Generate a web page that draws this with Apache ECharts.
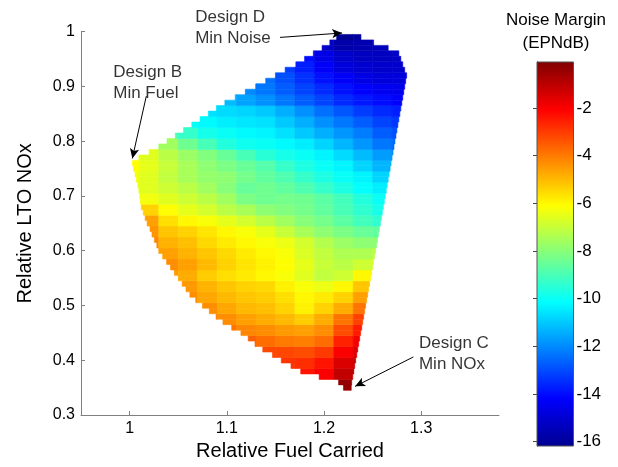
<!DOCTYPE html>
<html>
<head>
<meta charset="utf-8">
<script src="https://cdn.jsdelivr.net/npm/echarts@6/dist/echarts.min.js"></script>
<style>
html,body{margin:0;padding:0;background:#fff;}
#chart{width:618px;height:467px;}
</style>
</head>
<body>
<div id="chart"></div>
<script>
// ---------- DATA ----------
const xTicks = [1, 1.1, 1.2, 1.3];
const yTicks = [0.3, 0.4, 0.5, 0.6, 0.7, 0.8, 0.9, 1];
const cbTicks = [-16, -14, -12, -10, -8, -6, -4, -2];
const cbMin = -16.18, cbMax = -0.07;

// Region outline per 0.01 row of Relative LTO NOx
const rowY = [0.35,0.36,0.37,0.38,0.39,0.40,0.41,0.42,0.43,0.44,0.45,0.46,0.47,0.48,0.49,0.50,
  0.51,0.52,0.53,0.54,0.55,0.56,0.57,0.58,0.59,0.60,0.61,0.62,0.63,0.64,0.65,0.66,0.67,0.68,0.69,0.70,
  0.71,0.72,0.73,0.74,0.75,0.76,0.77,0.78,0.79,0.80,0.81,0.82,0.83,0.84,0.85,0.86,0.87,0.88,0.89,0.90,
  0.91,0.92,0.93,0.94,0.95,0.96,0.97,0.98,0.99];
const rowLeft = [1.220,1.215,1.195,1.176,1.166,1.156,1.147,1.137,1.129,1.122,1.1145,1.105,1.096,1.089,1.082,1.075,
  1.068,1.062,1.058,1.054,1.050,1.046,1.042,1.038,1.034,1.030,1.028,1.0255,1.023,1.021,1.018,1.016,1.014,1.012,1.011,1.0105,
  1.0096,1.0085,1.007,1.0056,1.004,1.003,1.0096,1.020,1.030,1.0385,1.047,1.0555,1.064,1.0725,1.081,1.0895,1.098,1.1086,1.119,1.130,
  1.140,1.150,1.160,1.171,1.180,1.189,1.198,1.206,1.213];
const rowRight = [1.228,1.2285,1.2296,1.2306,1.2316,1.2326,1.2337,1.2347,1.2357,1.2367,1.2377,1.2388,1.2398,1.2408,1.2418,1.2428,
  1.2439,1.2449,1.2459,1.2469,1.2479,1.249,1.250,1.251,1.252,1.253,1.254,1.255,1.256,1.257,1.258,1.259,1.260,1.261,1.262,1.263,
  1.264,1.265,1.266,1.267,1.268,1.269,1.270,1.271,1.272,1.273,1.274,1.275,1.276,1.277,1.278,1.279,1.280,1.281,1.282,1.283,
  1.284,1.285,1.283,1.281,1.279,1.277,1.266,1.251,1.238];

// Noise margin (EPNdB) sampled on columns of Relative Fuel Carried, bands of 0.02 LTO NOx
const colX = [1.00,1.02,1.04,1.06,1.08,1.10,1.12,1.14,1.16,1.18,1.20,1.22,1.24,1.26,1.28];
const bandY = [0.355,0.375,0.395,0.415,0.435,0.455,0.475,0.495,0.515,0.535,0.555,0.575,0.595,0.615,0.635,0.655,
  0.675,0.695,0.715,0.735,0.755,0.775,0.795,0.815,0.835,0.855,0.875,0.895,0.915,0.935,0.955,0.975,0.995];
const n = null;
const noiseMargin = [
  [n,n,n,n,n,n,n,n,n,n,n,-0.4,n,n,n],
  [n,n,n,n,n,n,n,n,n,-2.4,-2.0,-1.1,-0.8,n,n],
  [n,n,n,n,n,n,n,n,-2.9,-2.8,-2.4,-1.5,-1.1,n,n],
  [n,n,n,n,n,n,n,-3.2,-3.2,-3.3,-3.0,-2.0,-1.5,n,n],
  [n,n,n,n,n,n,-3.6,-3.8,-4.0,-4.1,-3.8,-2.6,-1.9,n,n],
  [n,n,n,n,n,-3.9,-4.2,-4.3,-4.5,-4.6,-4.3,-3.3,-2.5,n,n],
  [n,n,n,n,-4.0,-4.3,-4.6,-4.8,-5.0,-5.3,-4.8,-3.9,-3.1,n,n],
  [n,n,n,n,-4.3,-4.7,-5.0,-5.1,-5.4,-5.9,-5.4,-4.8,-3.9,n,n],
  [n,n,n,-4.3,-4.7,-5.0,-5.2,-5.3,-5.6,-6.0,-5.8,-5.4,-4.6,n,n],
  [n,n,n,-4.5,-4.9,-5.2,-5.4,-5.5,-5.9,-6.2,-6.4,-6.0,-5.2,n,n],
  [n,n,-4.5,-4.8,-5.3,-5.6,-5.8,-6.0,-6.2,-6.6,-7.1,-6.9,-6.0,n,n],
  [n,n,-4.3,-4.6,-5.0,-5.4,-5.7,-5.9,-6.1,-6.5,-7.0,-7.2,-6.9,-6.6,n],
  [n,n,-4.6,-4.9,-5.2,-5.5,-5.8,-6.0,-6.2,-6.7,-7.1,-7.4,-7.4,-7.2,n],
  [n,-4.2,-4.9,-5.1,-5.5,-5.8,-6.0,-6.2,-6.4,-6.8,-7.3,-7.7,-7.9,-7.9,n],
  [n,-4.4,-5.2,-5.4,-5.7,-6.0,-6.2,-6.5,-7.0,-7.5,-7.9,-8.2,-8.5,-8.6,n],
  [n,-4.6,-5.6,-6.0,-6.2,-6.5,-6.8,-7.2,-7.6,-8.0,-8.3,-8.7,-9.1,-9.4,n],
  [n,-5.4,-6.1,-6.5,-6.8,-7.2,-7.5,-7.9,-8.1,-8.3,-8.6,-9.0,-9.4,-9.8,n],
  [n,-6.3,-6.6,-6.9,-7.2,-7.6,-8.2,-8.4,-8.3,-8.4,-8.7,-9.1,-9.6,-10.0,n],
  [-6.4,-6.6,-6.9,-7.2,-7.6,-8.0,-8.5,-8.4,-8.6,-8.9,-9.3,-9.7,-10.1,-10.4,n],
  [-6.3,-6.6,-7.1,-7.5,-7.8,-7.9,-8.3,-8.6,-8.9,-9.3,-9.7,-10.0,-10.3,-10.8,n],
  [-6.1,-6.5,-7.0,-7.5,-7.9,-8.2,-8.5,-8.8,-9.3,-9.7,-10.0,-10.3,-10.8,-11.3,n],
  [-6.2,-6.6,-7.2,-7.7,-8.1,-8.5,-9.0,-9.5,-9.8,-10.0,-10.3,-10.7,-11.2,-11.7,-12.0],
  [n,n,-7.6,-8.4,-9.0,-9.6,-9.9,-10.0,-10.2,-10.4,-10.8,-11.3,-11.8,-12.3,-12.5],
  [n,n,-8.8,-9.3,-9.8,-10.0,-10.2,-10.3,-10.6,-11.0,-11.4,-11.8,-12.2,-12.7,-12.9],
  [n,n,n,-10.0,-10.2,-10.4,-10.5,-10.6,-11.0,-11.4,-11.9,-12.3,-12.7,-13.1,-13.3],
  [n,n,n,n,-10.6,-10.7,-10.8,-11.0,-11.4,-11.9,-12.4,-12.8,-13.2,-13.5,-13.7],
  [n,n,n,n,n,-11.2,-11.6,-11.9,-12.3,-12.7,-13.1,-13.5,-13.8,-14.0,-14.2],
  [n,n,n,n,n,n,-12.0,-12.3,-12.7,-13.1,-13.5,-13.9,-14.2,-14.4,-14.5],
  [n,n,n,n,n,n,n,-12.4,-12.9,-13.4,-13.9,-14.3,-14.6,-14.8,-14.8],
  [n,n,n,n,n,n,n,n,-13.2,-13.7,-14.3,-14.8,-15.0,-15.1,-15.1],
  [n,n,n,n,n,n,n,n,n,-14.0,-14.6,-15.1,-15.3,-15.3,-15.2],
  [n,n,n,n,n,n,n,n,n,n,-15.2,-15.7,-15.6,-15.4,n],
  [n,n,n,n,n,n,n,n,n,n,n,-16.1,-15.9,n,n]
];

// Annotations
const annText = ['Design D\nMin Noise', 'Design B\nMin Fuel', 'Design C\nMin NOx'];
const annX = [1.0675, 0.9832, 1.2977];
const annY = [1.046, 0.9455, 0.450];
const arrowFrom = [[1.1547, 0.9896], [1.0172, 0.8824], [1.2919, 0.406]];
const arrowTo = [[1.2186, 0.9976], [1.0028, 0.7686], [1.232, 0.3523]];

// ---------- BUILD ----------
const jet = ['#000090','#0000ff','#0080ff','#00ffff','#80ff80','#ffff00','#ff8000','#ff0000','#800000'];
const FONT = 'Liberation Sans, Arial, Helvetica, sans-serif';
const halfCol = (colX[1] - colX[0]) / 2;
const halfRow = (rowY[1] - rowY[0]) / 2;

const cells = [];
rowY.forEach((y, j) => {
  const band = noiseMargin[Math.floor(j / 2)];
  const L = rowLeft[j], R = rowRight[j];
  colX.forEach((cx, i) => {
    const v = band[i];
    if (v == null) return;
    const x0 = Math.max(cx - halfCol, L), x1 = Math.min(cx + halfCol, R);
    if (x1 <= x0) return;
    cells.push([x0, x1, y - halfRow, y + halfRow, v]);
  });
});

const chart = echarts.init(document.getElementById('chart'), null, {renderer: 'canvas'});
const fmt = v => String(Number(v.toFixed(2)));
const axisGrey = '#808080';

chart.setOption({
  animation: false,
  backgroundColor: '#fff',
  grid: [
    {left: 81, right: 119, top: 31.7, bottom: 52},
    {left: 537, width: 36.5, top: 62, height: 384}
  ],
  visualMap: {
    show: false, type: 'continuous', min: cbMin, max: cbMax,
    dimension: 4, seriesIndex: 0, inRange: {color: jet}
  },
  xAxis: [
    {
      type: 'value', gridIndex: 0, min: 0.95, max: 1.38,
      name: 'Relative Fuel Carried', nameLocation: 'middle', nameGap: 26,
      nameTextStyle: {fontSize: 20, color: '#000', fontFamily: FONT},
      axisLine: {show: true, lineStyle: {color: axisGrey, width: 1}},
      axisTick: {show: true, inside: true, length: 4, customValues: xTicks, lineStyle: {color: axisGrey}},
      axisLabel: {customValues: xTicks, formatter: fmt, fontSize: 16, color: '#000', margin: 6, fontFamily: FONT},
      splitLine: {show: false}
    },
    {type: 'value', gridIndex: 1, min: 0, max: 1, show: false}
  ],
  yAxis: [
    {
      type: 'value', gridIndex: 0, min: 0.3, max: 1,
      name: 'Relative LTO NOx', nameLocation: 'middle', nameGap: 46, nameRotate: 90,
      nameTextStyle: {fontSize: 20, color: '#000', fontFamily: FONT},
      axisLine: {show: true, lineStyle: {color: axisGrey, width: 1}},
      axisTick: {show: true, inside: true, length: 4, customValues: yTicks, lineStyle: {color: axisGrey}},
      axisLabel: {customValues: yTicks, formatter: fmt, fontSize: 16, color: '#000', margin: 6, fontFamily: FONT},
      splitLine: {show: false}
    },
    {
      type: 'value', gridIndex: 1, min: cbMin, max: cbMax, position: 'right',
      axisLine: {show: true, lineStyle: {color: '#555', width: 1}},
      axisTick: {show: true, inside: true, length: 4, customValues: cbTicks, lineStyle: {color: '#444'}},
      axisLabel: {customValues: cbTicks, formatter: fmt, fontSize: 17, color: '#000', margin: 3, fontFamily: FONT},
      splitLine: {show: false}
    },
    {
      type: 'value', gridIndex: 1, min: cbMin, max: cbMax, position: 'left',
      axisLine: {show: true, lineStyle: {color: '#555', width: 1}},
      axisTick: {show: true, inside: true, length: 4, customValues: cbTicks, lineStyle: {color: '#444'}},
      axisLabel: {show: false},
      splitLine: {show: false}
    }
  ],
  graphic: [{
    type: 'text', x: 556, y: 9,
    style: {text: 'Noise Margin\n(EPNdB)', align: 'center', verticalAlign: 'top',
      fontSize: 17, lineHeight: 23, fill: '#000', fontFamily: FONT}
  }],
  series: [
    {
      type: 'custom', xAxisIndex: 0, yAxisIndex: 0, clip: true,
      data: cells,
      encode: {x: [0, 1], y: [2, 3]},
      renderItem: function (params, api) {
        const a = api.coord([api.value(0), api.value(3)]);
        const b = api.coord([api.value(1), api.value(2)]);
        const c = api.visual('color');
        return {
          type: 'rect',
          shape: {x: a[0], y: a[1], width: b[0] - a[0], height: b[1] - a[1]},
          style: {fill: c, stroke: c, lineWidth: 0.6}
        };
      }
    },
    {
      type: 'custom', xAxisIndex: 1, yAxisIndex: 1,
      data: [[0, 1, cbMin, cbMax]],
      renderItem: function (params, api) {
        const a = api.coord([api.value(0), api.value(3)]);
        const b = api.coord([api.value(1), api.value(2)]);
        const stops = jet.slice().reverse().map((col, i) => ({offset: i / (jet.length - 1), color: col}));
        return {
          type: 'rect',
          shape: {x: a[0], y: a[1], width: b[0] - a[0], height: b[1] - a[1]},
          style: {fill: new echarts.graphic.LinearGradient(0, 0, 0, 1, stops), stroke: '#555', lineWidth: 1},
          z2: -1
        };
      },
      z: 1
    },
    {
      type: 'scatter', xAxisIndex: 0, yAxisIndex: 0, clip: false,
      symbolSize: 0.1, itemStyle: {color: 'rgba(0,0,0,0)'},
      silent: true,
      data: annText.map((t, i) => ({value: [annX[i], annY[i]], name: t})),
      label: {
        show: true, position: [0, 0], align: 'left', verticalAlign: 'top',
        formatter: p => p.name, fontSize: 17, lineHeight: 21, color: '#000', fontFamily: FONT
      },
      markLine: {
        silent: true, symbol: ['none', 'arrow'], symbolSize: [7, 10],
        label: {show: false},
        lineStyle: {color: '#000', width: 1, type: 'solid'},
        data: arrowFrom.map((f, i) => [{coord: f}, {coord: arrowTo[i]}])
      }
    }
  ]
});
</script>
</body>
</html>
